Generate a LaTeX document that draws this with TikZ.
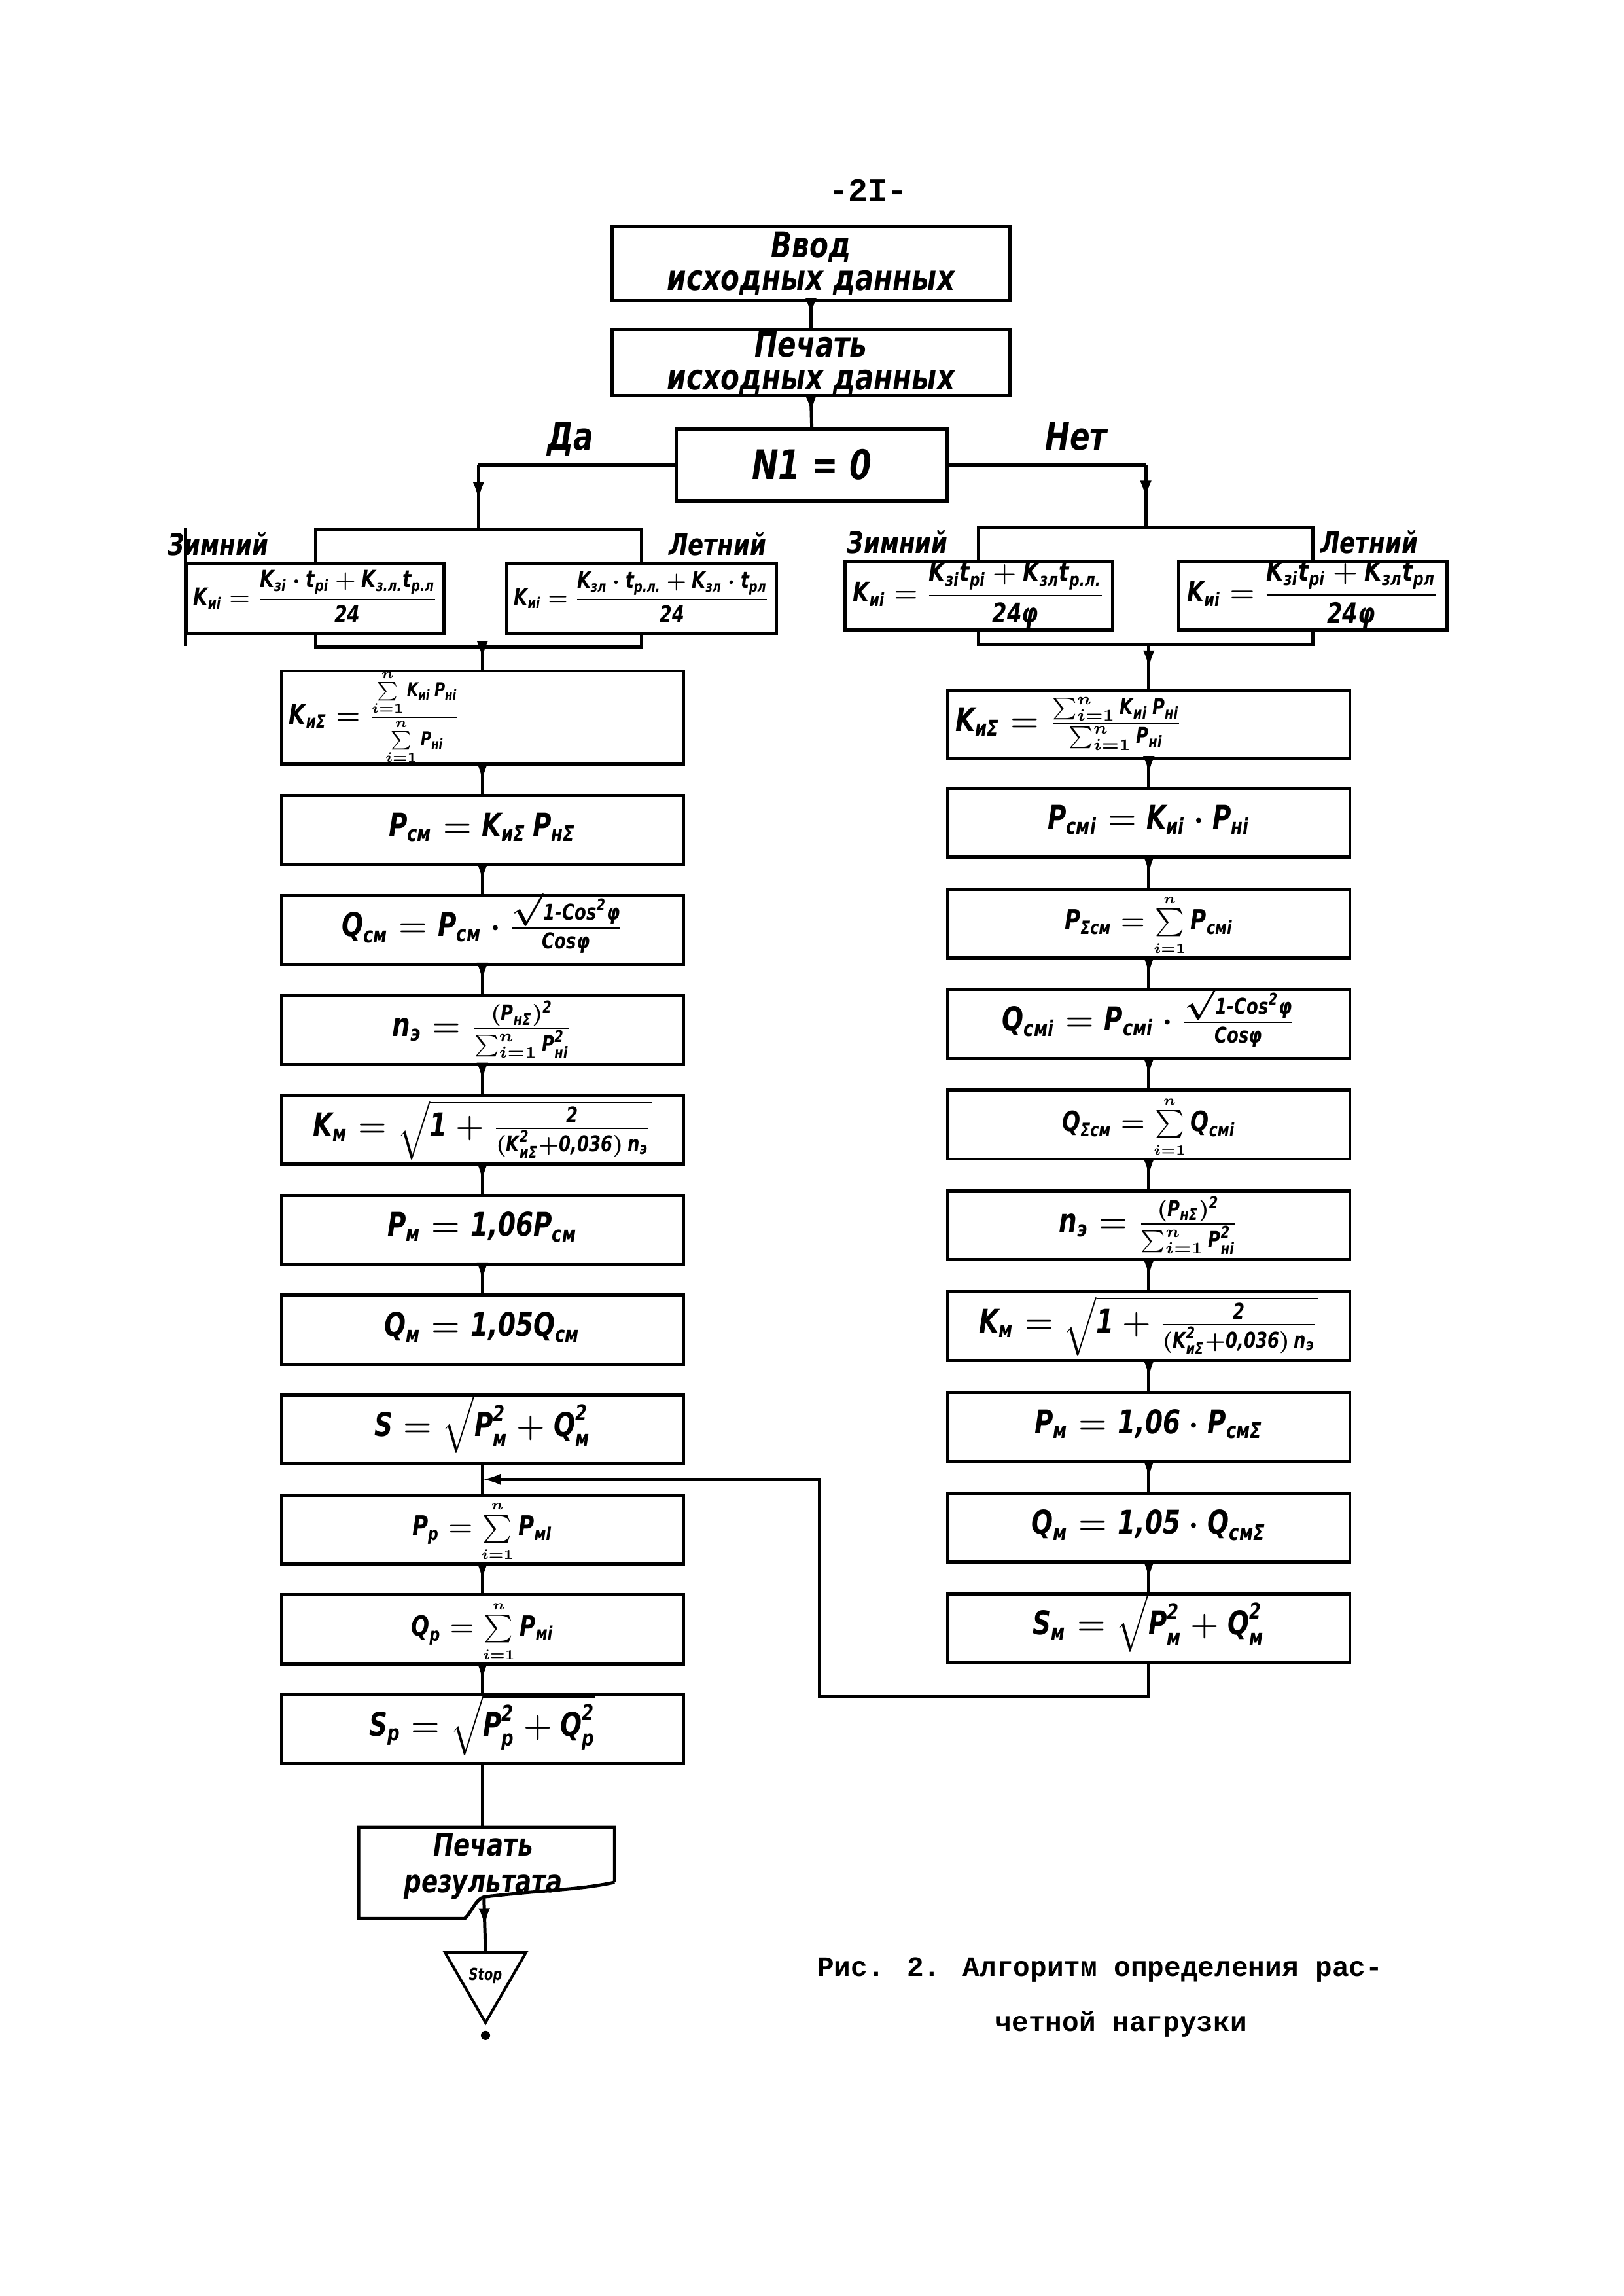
\documentclass[tikz,border=0pt]{standalone}
\usepackage{amsmath}
\usepackage{fontspec}
\setmainfont{DejaVu Sans}[FakeStretch=0.78]
\newfontfamily\typew{Liberation Mono}
\usetikzlibrary{positioning,arrows.meta,decorations.markings,shapes.geometric}
\newcommand\hw[1]{\text{#1}}
\newcommand\lsum{\sum\limits_{\scriptscriptstyle i=1}^{\scriptscriptstyle n}}
\tikzset{
  conn/.style={line width=1.2pt},
  midarr/.style={postaction={decorate},decoration={markings,
      mark=at position 0.55 with {\arrow{Latex[length=2.4mm,width=1.5mm]}}}},
  blk/.style={draw,line width=1.2pt,minimum width=52mm,minimum height=8.9mm,inner sep=1pt,
      font=\bfseries\itshape\boldmath\fontsize{12}{13}\selectfont},
  frm/.style={blk,text height=2.6mm,text depth=0.9mm},
  hd/.style={font=\bfseries\itshape\fontsize{13}{12}\selectfont},
  lbl/.style={font=\bfseries\itshape\fontsize{11}{12}\selectfont},
  capt/.style={font=\typew\bfseries\fontsize{10.3}{12}\selectfont}
}
\begin{document}
\begin{tikzpicture}[x=1mm,y=-1mm]
\useasboundingbox (0,0) rectangle (210,296.9);
\node[font=\typew\bfseries\fontsize{12}{13}\selectfont] (page) at (112.3,24.6) {-2I-};
% input and check
\node[blk,hd,minimum width=51.5mm,minimum height=9.5mm,inner sep=0pt,align=center] (vvod) at (104.9,34.1) {Ввод\\исходных данных};
\node[blk,hd,minimum width=51.5mm,minimum height=8.5mm,inner sep=0pt,align=center] (pech) at (104.9,46.9) {Печать\\исходных данных};
\node[blk,hd,font=\bfseries\itshape\fontsize{15}{15}\selectfont,minimum width=35mm,minimum height=9.3mm] (nf) at (105.0,60.1) {N1 = 0};
\node[hd,font=\bfseries\itshape\fontsize{14}{14}\selectfont] (da) at (73.8,56.8) {Да};
\node[hd,font=\bfseries\itshape\fontsize{14}{14}\selectfont] (net) at (139.2,56.4) {Нет};
\draw[conn,midarr] (vvod.south) -- (pech.north);
\draw[conn,midarr] (pech.south) -- (nf.north);
% branches
\node[frm,minimum width=33.2mm] (zl) at (40.8,77.4) {\resizebox{31.5mm}{!}{$\hw{K}_{\hw{иi}}=\dfrac{\hw{K}_{\hw{зi}}\cdot\hw{t}_{\hw{pi}}+\hw{K}_{\hw{з.л.}}\hw{t}_{\hw{p.л}}}{\hw{24}}$}};
\node[frm,minimum width=34.9mm] (ll) at (83.0,77.4) {\resizebox{33mm}{!}{$\hw{K}_{\hw{иi}}=\dfrac{\hw{K}_{\hw{зл}}\cdot\hw{t}_{\hw{p.л.}}+\hw{K}_{\hw{зл}}\cdot\hw{t}_{\hw{рл}}}{\hw{24}}$}};
\node[frm,minimum width=34.6mm] (zr) at (126.6,77.0) {\resizebox{32.5mm}{!}{$\hw{K}_{\hw{иi}}=\dfrac{\hw{K}_{\hw{зi}}\hw{t}_{\hw{pi}}+\hw{K}_{\hw{зл}}\hw{t}_{\hw{p.л.}}}{\hw{24φ}}$}};
\node[frm,minimum width=34.7mm] (lr) at (169.8,77.0) {\resizebox{32.5mm}{!}{$\hw{K}_{\hw{иi}}=\dfrac{\hw{K}_{\hw{зi}}\hw{t}_{\hw{pi}}+\hw{K}_{\hw{зл}}\hw{t}_{\hw{pл}}}{\hw{24φ}}$}};
\node[lbl] (zlabl) at (28.2,70.4) {Зимний};
\node[lbl] (llabl) at (92.8,70.4) {Летний};
\node[lbl] (zlabr) at (116.1,70.1) {Зимний};
\node[lbl] (llabr) at (177.1,70.1) {Летний};
\coordinate (dacor) at (61.9,60.1);
\coordinate (dajoin) at (61.9,68.5);
\coordinate (netcor) at (148.2,60.1);
\coordinate (netjoin) at (148.2,68.2);
\draw[conn] (nf.west) -- (dacor);
\draw[conn,midarr] (dacor) -- (dajoin);
\draw[conn] (zl.north) |- (dajoin) -| (ll.north);
\draw[conn] (nf.east) -- (netcor);
\draw[conn,midarr] (netcor) -- (netjoin);
\draw[conn] (zr.north) |- (netjoin) -| (lr.north);
\draw[conn] ([yshift=4.5mm]zl.north west) -- ([yshift=-1.5mm]zl.south west);
% left column
\node[frm,text width=50mm,align=left,minimum height=12.1mm] (kl) at (62.4,92.8) {\scalebox{0.85}{$\hw{K}_{\hw{иΣ}}=\frac{\lsum\hw{K}_{\hw{иi}}\,\hw{P}_{\hw{нi}}}{\lsum\hw{P}_{\hw{нi}}}$}};
\node[frm,below=3.6mm of kl] (pcm) {$\hw{P}_{\hw{см}}=\hw{K}_{\hw{иΣ}}\,\hw{P}_{\hw{нΣ}}$};
\node[frm,below=3.6mm of pcm] (qcm) {$\hw{Q}_{\hw{см}}=\hw{P}_{\hw{см}}\cdot\frac{\sqrt{\hw{1-Cos}^{\hw{2}}\hw{φ}}}{\hw{Cosφ}}$};
\node[frm,below=3.6mm of qcm] (nel) {$\hw{n}_{\hw{э}}=\frac{(\hw{P}_{\hw{нΣ}})^{\hw{2}}}{\sum_{i=1}^{n}\hw{P}^{\hw{2}}_{\hw{нi}}}$};
\node[frm,below=3.6mm of nel] (kml) {$\hw{K}_{\hw{м}}=\sqrt{\hw{1}+\frac{\hw{2}}{(\hw{K}^{\hw{2}}_{\hw{иΣ}}+\hw{0,036})\,\hw{n}_{\hw{э}}}}$};
\node[frm,below=3.6mm of kml] (pml) {$\hw{P}_{\hw{м}}=\hw{1,06P}_{\hw{см}}$};
\node[frm,below=3.6mm of pml] (qml) {$\hw{Q}_{\hw{м}}=\hw{1,05Q}_{\hw{см}}$};
\node[frm,below=3.6mm of qml] (sl) {$\hw{S}=\sqrt{\hw{P}^{\hw{2}}_{\hw{м}}+\hw{Q}^{\hw{2}}_{\hw{м}}}$};
\node[frm,below=3.6mm of sl] (pp) {\scalebox{0.85}{$\hw{P}_{\hw{p}}=\lsum\hw{P}_{\hw{мI}}$}};
\node[frm,below=3.6mm of pp] (qp) {\scalebox{0.85}{$\hw{Q}_{\hw{p}}=\lsum\hw{P}_{\hw{мi}}$}};
\node[frm,below=3.6mm of qp] (sp) {$\hw{S}_{\hw{p}}=\sqrt{\hw{P}^{\hw{2}}_{\hw{p}}+\hw{Q}^{\hw{2}}_{\hw{p}}}$};
% right column
\node[frm,text width=50mm,align=left,minimum height=8.7mm] (kr) at (148.6,93.7) {$\hw{K}_{\hw{иΣ}}=\frac{\sum_{i=1}^{n}\hw{K}_{\hw{иi}}\,\hw{P}_{\hw{нi}}}{\sum_{i=1}^{n}\hw{P}_{\hw{нi}}}$};
\node[frm,below=3.45mm of kr] (pcmi) {$\hw{P}_{\hw{смi}}=\hw{K}_{\hw{иi}}\cdot\hw{P}_{\hw{нi}}$};
\node[frm,below=3.7mm of pcmi] (psum) {\scalebox{0.85}{$\hw{P}_{\hw{Σсм}}=\lsum\hw{P}_{\hw{смi}}$}};
\node[frm,below=3.7mm of psum] (qcmi) {$\hw{Q}_{\hw{смi}}=\hw{P}_{\hw{смi}}\cdot\frac{\sqrt{\hw{1-Cos}^{\hw{2}}\hw{φ}}}{\hw{Cosφ}}$};
\node[frm,below=3.7mm of qcmi] (qsum) {\scalebox{0.85}{$\hw{Q}_{\hw{Σсм}}=\lsum\hw{Q}_{\hw{смi}}$}};
\node[frm,below=3.7mm of qsum] (ner) {$\hw{n}_{\hw{э}}=\frac{(\hw{P}_{\hw{нΣ}})^{\hw{2}}}{\sum_{i=1}^{n}\hw{P}^{\hw{2}}_{\hw{нi}}}$};
\node[frm,below=3.7mm of ner] (kmr) {$\hw{K}_{\hw{м}}=\sqrt{\hw{1}+\frac{\hw{2}}{(\hw{K}^{\hw{2}}_{\hw{иΣ}}+\hw{0,036})\,\hw{n}_{\hw{э}}}}$};
\node[frm,below=3.7mm of kmr] (pmr) {$\hw{P}_{\hw{м}}=\hw{1,06}\cdot\hw{P}_{\hw{смΣ}}$};
\node[frm,below=3.7mm of pmr] (qmr) {$\hw{Q}_{\hw{м}}=\hw{1,05}\cdot\hw{Q}_{\hw{смΣ}}$};
\node[frm,below=3.7mm of qmr] (smr) {$\hw{S}_{\hw{м}}=\sqrt{\hw{P}^{\hw{2}}_{\hw{м}}+\hw{Q}^{\hw{2}}_{\hw{м}}}$};
% merges into the columns
\coordinate (lmerge) at (62.4,83.7);
\coordinate (rmerge) at (148.6,83.3);
\draw[conn] (zl.south) |- (lmerge) -| (ll.south);
\draw[conn,midarr] (lmerge) -- (kl.north);
\draw[conn] (zr.south) |- (rmerge) -| (lr.south);
\draw[conn,midarr] (rmerge) -- (kr.north);
\foreach \a/\b in {kl/pcm,pcm/qcm,qcm/nel,nel/kml,kml/pml,pml/qml,pp/qp,qp/sp,
                   kr/pcmi,pcmi/psum,psum/qcmi,qcmi/qsum,qsum/ner,ner/kmr,kmr/pmr,pmr/qmr,qmr/smr}
  \draw[conn,midarr] (\a.south) -- (\b.north);
\draw[conn] (sl.south) -- (pp.north);
% loop back from the right column
\coordinate (lp1) at (106.0,219.3);
\coordinate (lp2) at (106.0,191.3);
\draw[conn,-{Latex[length=2.4mm,width=1.5mm]}] (smr.south) |- (lp1) -- (lp2) -- (sl.south |- lp2);
% output and stop
\node[align=center,font=\bfseries\itshape\fontsize{11.5}{13.5}\selectfont] (pres) at (62.5,241.3) {Печать\\результата};
\draw[conn] (79.5,243.4) -- (79.5,236.3) -- (46.4,236.3) -- (46.4,248.1) -- (60.1,248.1)
  .. controls (61.0,247.3) and (61.5,245.6) .. (62.6,245.3)
  .. controls (70,244.4) and (75,244.4) .. (79.5,243.4);
\coordinate (presin) at (62.4,236.3);
\coordinate (presout) at (62.6,245.3);
\draw[conn] (sp.south) -- (presin);
\node[draw,line width=1pt,regular polygon,regular polygon sides=3,shape border rotate=180,
  minimum size=10mm,inner sep=0pt,font=\bfseries\itshape\fontsize{6}{6}\selectfont] (stop) at (62.8,255.5) {Stop};
\draw[conn,midarr] (presout) -- (stop.north);
\fill ([yshift=-1.3mm]stop.corner 1) circle (0.6mm);
% caption
\node[capt] (cap1) at (142.3,254.7) {Рис. 2. Алгоритм определения рас-};
\node[capt] (cap2) at (145.0,261.7) {четной нагрузки};
\end{tikzpicture}
\end{document}
